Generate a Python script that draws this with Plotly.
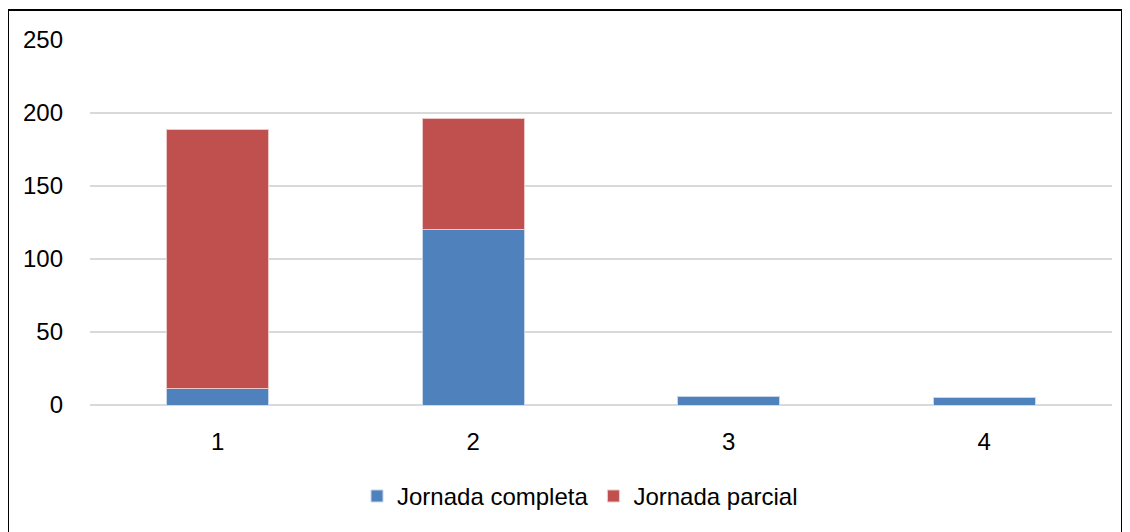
import plotly.graph_objects as go

categories = ["1", "2", "3", "4"]
completa = [11, 120, 6, 5]
parcial = [178, 76, None, None]

FONT = "Liberation Sans, Arial"
FS = 24

fig = go.Figure()
fig.add_trace(go.Bar(x=categories, y=completa, name="Jornada completa",
                     marker=dict(color="#4F81BD", line=dict(color="#c9d6ea", width=1))))
fig.add_trace(go.Bar(x=categories, y=parcial, name="Jornada parcial",
                     marker=dict(color="#C0504D", line=dict(color="#ecc9c8", width=1))))

# page has an 8px body margin; work in figure coordinates
OFF = 8
W, H = 1130 - OFF, 532 - OFF
L, T = 90 - OFF, 40 - OFF
PR, PB = 1112 - OFF, 405.5 - OFF
R, B = W - PR, H - PB
pw = PR - L
ph = PB - T

def px(x):
    return (x - OFF - L) / pw

def py(y):
    return (PB - (y - OFF)) / ph

fig.update_layout(
    width=W, height=H,
    barmode="stack",
    bargap=0.6,
    plot_bgcolor="white",
    paper_bgcolor="white",
    margin=dict(l=L, r=R, t=T, b=B, pad=0, autoexpand=False),
    font=dict(family=FONT, size=FS, color="#000000"),
    showlegend=True,
    legend=dict(orientation="h", x=px(580), xanchor="center", y=py(497), yanchor="middle",
                traceorder="normal", font=dict(family=FONT, size=FS)),
    xaxis=dict(showgrid=False, showline=False, ticks="", ticklabelstandoff=20,
               tickfont=dict(family=FONT, size=FS)),
    yaxis=dict(range=[0, 250], dtick=50, showgrid=True, gridcolor="#d9d9d9", gridwidth=1.5,
               zeroline=True, zerolinecolor="#d9d9d9", zerolinewidth=1.5,
               showline=False, ticks="", ticklabelstandoff=26,
               tickfont=dict(family=FONT, size=FS)),
    shapes=[dict(type="rect", xref="paper", yref="paper",
                 x0=px(8), x1=px(1122), y0=py(560), y1=py(10),
                 line=dict(color="black", width=2), fillcolor="rgba(0,0,0,0)", layer="above")],
)

fig.write_html("out.html")
